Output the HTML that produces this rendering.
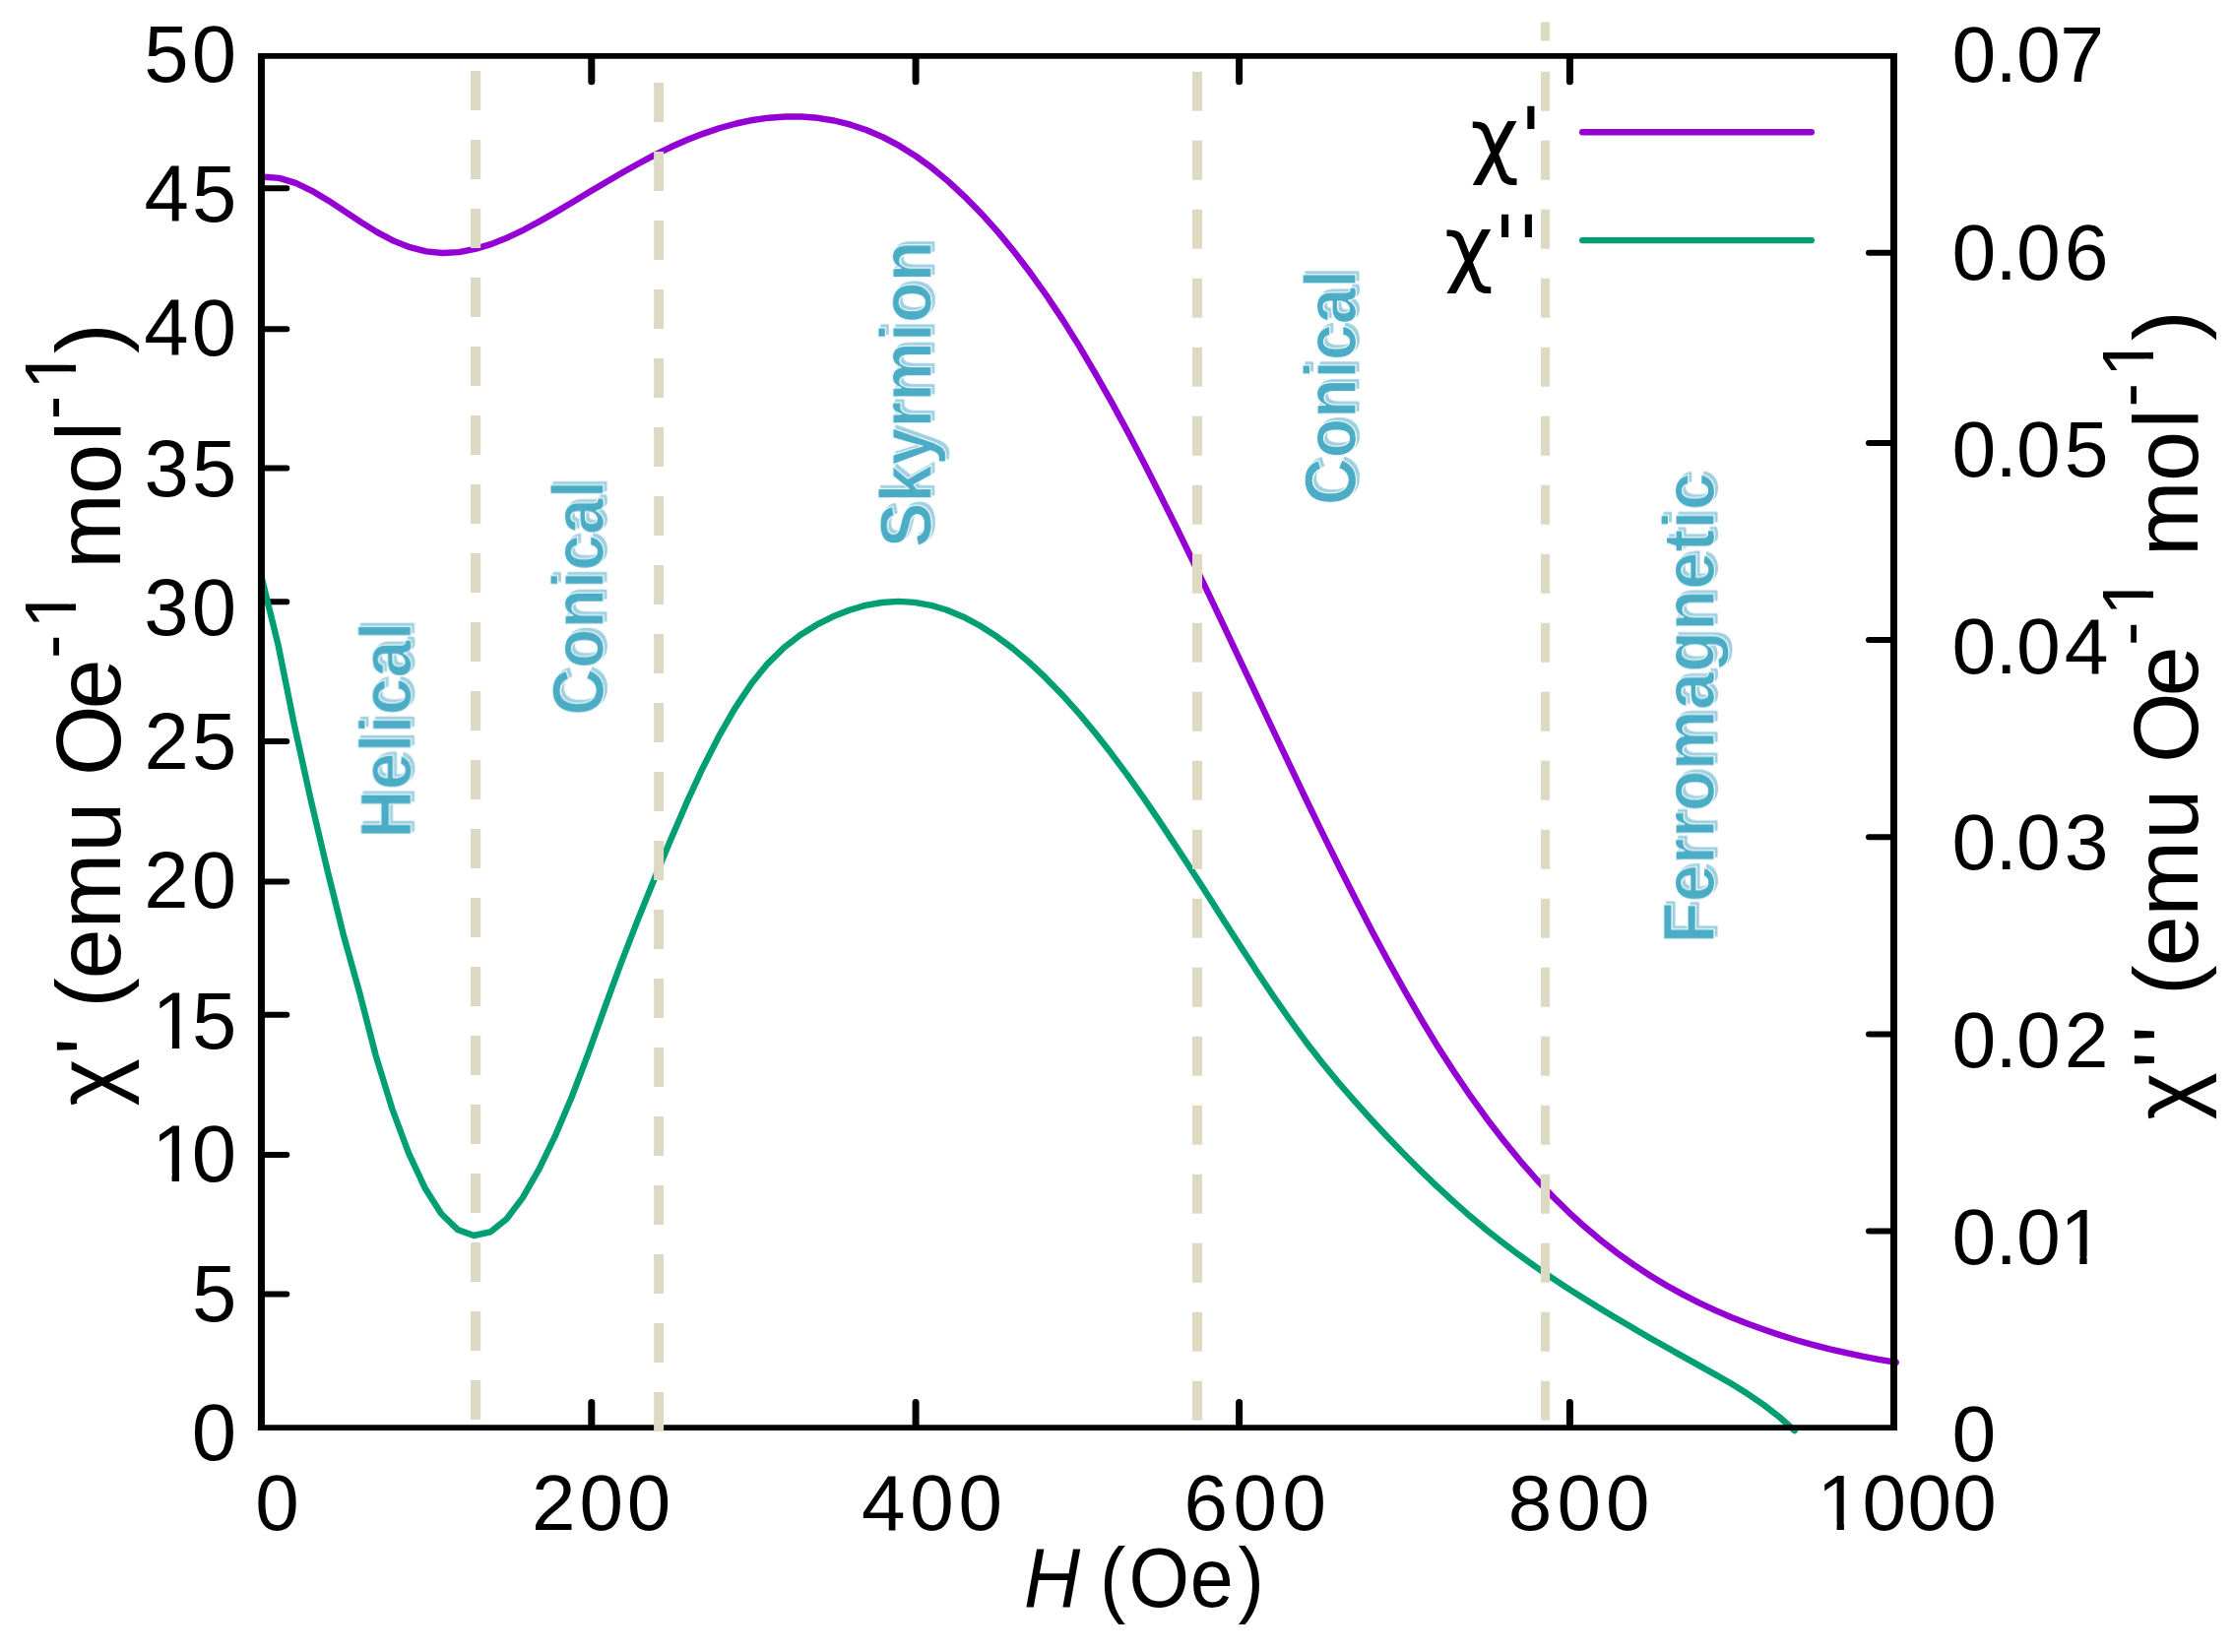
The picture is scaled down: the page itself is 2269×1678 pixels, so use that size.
<!DOCTYPE html>
<html lang="en">
<head>
<meta charset="utf-8">
<title>AC susceptibility vs field</title>
<style>
html,body{margin:0;padding:0;background:#fff;}
body{width:2269px;height:1678px;overflow:hidden;}
svg{display:block;}
.tl{font-family:"Liberation Sans",sans-serif;font-size:81.5px;fill:#000;}
.tr{font-family:"Liberation Sans",sans-serif;font-size:80.5px;fill:#000;}
.xt{font-family:"Liberation Sans",sans-serif;font-size:80px;fill:#000;}
.xtitle{font-family:"Liberation Sans",sans-serif;font-size:86px;fill:#000;}
.ax{font-family:"Liberation Sans",sans-serif;font-size:92px;fill:#000;}
.sup{font-size:73.6px;}
.ph{font-family:"Liberation Sans",sans-serif;font-weight:bold;font-size:74px;}
.leg{font-family:"DejaVu Sans","Liberation Sans",sans-serif;font-size:86.1px;fill:#000;}
</style>
</head>
<body>
<svg width="2269" height="1678" viewBox="0 0 2269 1678">
<rect x="0" y="0" width="2269" height="1678" fill="#ffffff"/>

<!-- axis ticks (drawn behind the data) -->
<g fill="none" stroke="#000" stroke-linecap="round">
<!-- left ticks -->
<path stroke-width="6" d="M267.3 191.2h24M267.3 334.3h24M267.3 475.4h24M267.3 611.2h24M267.3 753h24M267.3 895.4h24M267.3 1030.7h24M267.3 1173.1h24M267.3 1314.4h24"/>
<!-- right ticks -->
<path stroke-width="6" d="M1922 256.8h-24M1922 450h-24M1922 650.1h-24M1922 850.2h-24M1922 1050.5h-24M1922 1250.6h-24"/>
<!-- top ticks -->
<path stroke-width="7" d="M600.8 58.7v24M930.1 58.7v24M1258.6 58.7v24M1594.4 58.7v24"/>
<!-- bottom ticks -->
<path stroke-width="7" d="M600.8 1448.5v-24M930.1 1448.5v-24M1258.6 1448.5v-24M1594.4 1448.5v-24"/>
</g>

<!-- data curves -->
<g fill="none" stroke-linecap="round" stroke-linejoin="round" stroke-width="6.4">
<path stroke="#9400d3" d="M268.0 179.8L283.7 180.9L300.3 185.9L316.8 193.8L333.4 203.7L350.0 214.6L366.6 225.6L383.1 235.9L399.7 244.6L416.3 251.2L432.9 255.4L449.4 257.0L466.0 256.1L482.6 252.9L499.2 247.9L515.8 241.2L532.3 233.3L548.9 224.4L565.5 214.9L582.1 205.1L598.6 195.1L615.2 185.2L631.8 175.5L648.4 166.2L664.9 157.4L681.5 149.3L698.1 142.0L714.7 135.6L731.3 130.0L747.8 125.5L764.4 122.0L781.0 119.7L797.6 118.5L814.1 118.5L830.7 119.8L847.3 122.5L863.9 126.7L880.4 132.3L897.0 139.4L913.6 148.2L930.2 158.6L946.8 170.7L963.3 184.4L979.9 199.8L996.5 216.7L1013.1 235.1L1029.6 255.1L1046.2 276.8L1062.8 300.0L1079.4 324.9L1096.0 351.4L1112.5 379.4L1129.1 408.7L1145.7 439.3L1162.3 470.9L1178.8 503.5L1195.4 536.8L1212.0 570.8L1228.6 605.3L1245.1 640.2L1261.7 675.3L1278.3 710.4L1294.9 745.5L1311.5 780.4L1328.0 815.0L1344.6 849.1L1361.2 882.5L1377.8 915.3L1394.3 947.2L1410.9 978.0L1427.5 1007.8L1444.1 1036.4L1460.6 1063.6L1477.2 1089.3L1493.8 1113.7L1510.4 1136.7L1527.0 1158.3L1543.5 1178.6L1560.1 1197.5L1576.7 1215.0L1593.3 1231.3L1609.8 1246.3L1626.4 1260.2L1643.0 1273.1L1659.6 1284.9L1676.1 1295.7L1692.7 1305.7L1709.3 1314.9L1725.9 1323.3L1742.5 1331.1L1759.0 1338.2L1775.6 1344.8L1792.2 1350.8L1808.8 1356.4L1825.3 1361.5L1841.9 1366.1L1858.5 1370.4L1875.1 1374.2L1891.6 1377.7L1908.2 1380.8L1924.8 1383.7L1925.7 1383.8"/>
<path stroke="#009e73" d="M266.2 588.4L282.4 654.4L299.0 736.8L315.5 811.6L332.1 882.2L348.7 949.1L365.3 1008.7L381.8 1072.6L398.4 1126.5L415.0 1171.2L431.6 1206.7L448.1 1232.7L464.7 1248.9L481.3 1255.0L497.9 1251.4L514.5 1238.3L531.0 1216.4L547.6 1187.4L564.2 1153.1L580.8 1114.0L597.3 1070.6L613.9 1024.3L630.5 979.0L647.1 936.2L663.6 895.2L680.2 855.2L696.8 816.7L713.4 780.7L730.0 748.2L746.5 719.4L763.1 694.6L779.7 674.1L796.3 657.7L812.8 645.0L829.4 634.7L846.0 626.3L862.6 619.7L879.1 614.9L895.7 612.0L912.3 610.9L928.9 611.9L945.5 614.8L962.0 619.8L978.6 626.7L995.2 635.5L1011.8 646.1L1028.3 658.4L1044.9 672.4L1061.5 687.9L1078.1 704.9L1094.7 723.3L1111.2 743.1L1127.8 764.1L1144.4 786.3L1161.0 809.6L1177.5 833.9L1194.1 858.9L1210.7 884.4L1227.3 910.3L1243.8 936.2L1260.4 962.0L1277.0 987.4L1293.6 1012.2L1310.2 1036.0L1326.7 1058.7L1343.3 1080.0L1359.9 1100.1L1376.5 1119.2L1393.0 1137.5L1409.6 1155.2L1426.2 1172.4L1442.8 1189.0L1459.3 1204.9L1475.9 1220.2L1492.5 1234.8L1509.1 1248.7L1525.7 1261.8L1542.2 1274.2L1558.8 1286.1L1575.4 1297.4L1592.0 1308.3L1608.5 1318.8L1625.1 1329.0L1641.7 1339.0L1658.3 1348.8L1674.8 1358.4L1691.4 1367.8L1708.0 1377.1L1724.6 1386.4L1741.2 1395.6L1757.7 1405.1L1774.3 1415.3L1790.9 1426.6L1807.5 1439.5L1822.7 1453.2"/>
<!-- legend samples -->
<path stroke="#9400d3" d="M1607.2 134.3H1839.8"/>
<path stroke="#009e73" d="M1607.2 244.1H1839.8"/>
</g>

<!-- plot frame (drawn over the data) -->
<g fill="none" stroke="#000" stroke-linecap="butt">
<path stroke-width="7" d="M265.45 53.95V1453.05M1923.5 53.95V1453.05"/>
<path stroke-width="5.9" d="M261.95 56.9H1927M261.95 1450.1H1927"/>
</g>

<!-- phase boundary dashed lines -->
<g fill="none" stroke="#ddd9c3" stroke-dasharray="40 30">
<path stroke-width="10.2" d="M483.1 72V1443"/>
<path stroke-width="10" d="M669.1 83.9V1454.3"/>
<path stroke-width="10" d="M1216 72.8V1443.6"/>
<path stroke-width="9.2" d="M1569.5 72.8V1443.6"/>
<path stroke-width="9.2" stroke-dasharray="none" d="M1569.5 22.4V41.4"/>
</g>

<!-- left axis tick labels -->
<g class="tl">
<text x="146.3 194.7" y="83.3">50</text>
<text x="146.5 194.9" y="225.2">45</text>
<text x="146.3 194.7" y="360.8">40</text>
<text x="146.5 194.9" y="503.6">35</text>
<text x="146.3 194.7" y="645.2">30</text>
<text x="146.5 194.9" y="780.8">25</text>
<text x="146.3 194.7" y="922.4">20</text>
<text x="154.5 194.9" y="1065.0">15</text>
<text x="154.3 194.7" y="1200.2">10</text>
<text x="194.9" y="1342.0">5</text>
<text x="194.7" y="1483.4">0</text>
</g>

<!-- right axis tick labels -->
<g class="tr">
<text x="1982.4 2026.5 2048.1 2092.2" y="83.4">0.07</text>
<text x="1982.4 2026.5 2048.1 2096.7" y="283.6">0.06</text>
<text x="1982.4 2026.5 2048.1 2096.7" y="483.6">0.05</text>
<text x="1982.4 2026.5 2048.1 2096.7" y="683.8">0.04</text>
<text x="1982.4 2026.5 2048.1 2096.7" y="882.9">0.03</text>
<text x="1982.4 2026.5 2048.1 2096.7" y="1083.9">0.02</text>
<text x="1982.4 2026.5 2048.1 2092.2" y="1284.0">0.01</text>
<text x="1982.4" y="1483.7">0</text>
</g>

<!-- x axis tick labels -->
<g class="xt">
<text x="259.3" y="1554.3">0</text>
<text x="540.1 588.4 636.8" y="1554.3">200</text>
<text x="874.9 924.3 973.6" y="1554.3">400</text>
<text x="1202.4 1252.4 1302.4" y="1554.3">600</text>
<text x="1531.7 1581.4 1631.1" y="1554.3">800</text>
<text x="1845.6 1891.5 1937.4 1983.3" y="1554.3">1000</text>
</g>

<!-- x axis title -->
<text class="xtitle" transform="translate(1040.0 1632.0) scale(0.92 1)" x="0.0 65.2 83.8 115.7 183.4 236.3" y="0"><tspan font-style="italic">H</tspan> (Oe)</text>

<!-- left axis title -->
<text class="ax" transform="translate(122 0) rotate(-90)" x="-1123.6 -1071.5 -1049.4 -1023.8 -994.5 -943.3 -865.7 -813.4 -787.9 -720.4" y="0">χ' (emu Oe<tspan class="sup" x="-669.0 -638.5" dy="-44.8">-1</tspan><tspan x="-603.4 -577.8 -501.9 -448.3" dy="44.8"> mol</tspan><tspan class="sup" x="-426.3 -395.8" dy="-44.8">-1</tspan><tspan x="-358.9" dy="44.8">)</tspan></text>

<!-- right axis title -->
<text class="ax" transform="translate(2231.7 0) rotate(-90)" x="-1137.4 -1085.3 -1059.4 -1036.5 -1010.9 -981.6 -930.4 -852.8 -800.5 -775.0 -707.5" y="0">χ'' (emu Oe<tspan class="sup" x="-656.1 -625.6" dy="-44.8">-1</tspan><tspan x="-590.5 -564.9 -489.0 -435.4" dy="44.8"> mol</tspan><tspan class="sup" x="-413.4 -382.9" dy="-44.8">-1</tspan><tspan x="-346.0" dy="44.8">)</tspan></text>

<!-- hide the serif foot of the digit one (reference font has none) -->
<g fill="#fff">
<rect x="159.4" y="1057.0" width="15.5" height="11.0"/><rect x="182.2" y="1057.0" width="14.6" height="11.0"/>
<rect x="159.1" y="1192.2" width="15.5" height="11.0"/><rect x="182.0" y="1192.2" width="14.6" height="11.0"/>
<rect x="2097.0" y="1276.1" width="15.3" height="10.9"/><rect x="2119.6" y="1276.1" width="14.4" height="10.9"/>
<rect x="1850.4" y="1546.5" width="15.2" height="10.8"/><rect x="1872.9" y="1546.5" width="14.4" height="10.8"/>
<g transform="translate(122 0) rotate(-90)">
<rect x="-634.1" y="-52.0" width="14.0" height="9.9"/><rect x="-613.5" y="-52.0" width="13.2" height="9.9"/>
<rect x="-391.4" y="-52.0" width="14.0" height="9.9"/><rect x="-370.8" y="-52.0" width="13.2" height="9.9"/>
</g>
<g transform="translate(2231.7 0) rotate(-90)">
<rect x="-621.2" y="-52.0" width="14.0" height="9.9"/><rect x="-600.6" y="-52.0" width="13.2" height="9.9"/>
<rect x="-378.5" y="-52.0" width="14.0" height="9.9"/><rect x="-357.9" y="-52.0" width="13.2" height="9.9"/>
</g>
</g>

<!-- legend -->
<text class="leg" x="1493.2" y="170.4">χ'</text>
<text class="leg" x="1467.1" y="279.9">χ''</text>

<!-- phase labels: teal text with a pale bevel highlight towards the upper right -->
<defs>
<filter id="bevel" x="-5%" y="-20%" width="110%" height="140%" color-interpolation-filters="sRGB">
<feOffset in="SourceAlpha" dx="2.9" dy="2.9" result="off"/>
<feFlood flood-color="#a0d1e0" result="tint"/>
<feComposite in="tint" in2="off" operator="in" result="shadow"/>
<feMerge><feMergeNode in="shadow"/><feMergeNode in="SourceGraphic"/></feMerge>
</filter>
</defs>
<g class="ph" fill="#4bacc6" stroke="#ffffff" stroke-width="1.1" stroke-linejoin="round">
<text filter="url(#bevel)" transform="translate(417.5 851.7) rotate(-90)" textLength="220.2" lengthAdjust="spacingAndGlyphs">Helical</text>
<text filter="url(#bevel)" transform="translate(612.9 726.7) rotate(-90)" textLength="238.9" lengthAdjust="spacingAndGlyphs">Conical</text>
<text filter="url(#bevel)" transform="translate(945.8 556.1) rotate(-90)" textLength="311.4" lengthAdjust="spacingAndGlyphs">Skyrmion</text>
<text filter="url(#bevel)" transform="translate(1377.0 513.1) rotate(-90)" textLength="238.9" lengthAdjust="spacingAndGlyphs">Conical</text>
<text filter="url(#bevel)" transform="translate(1741.0 958.4) rotate(-90)" textLength="478.2" lengthAdjust="spacingAndGlyphs">Ferromagnetic</text>
</g>
</svg>
</body>
</html>
